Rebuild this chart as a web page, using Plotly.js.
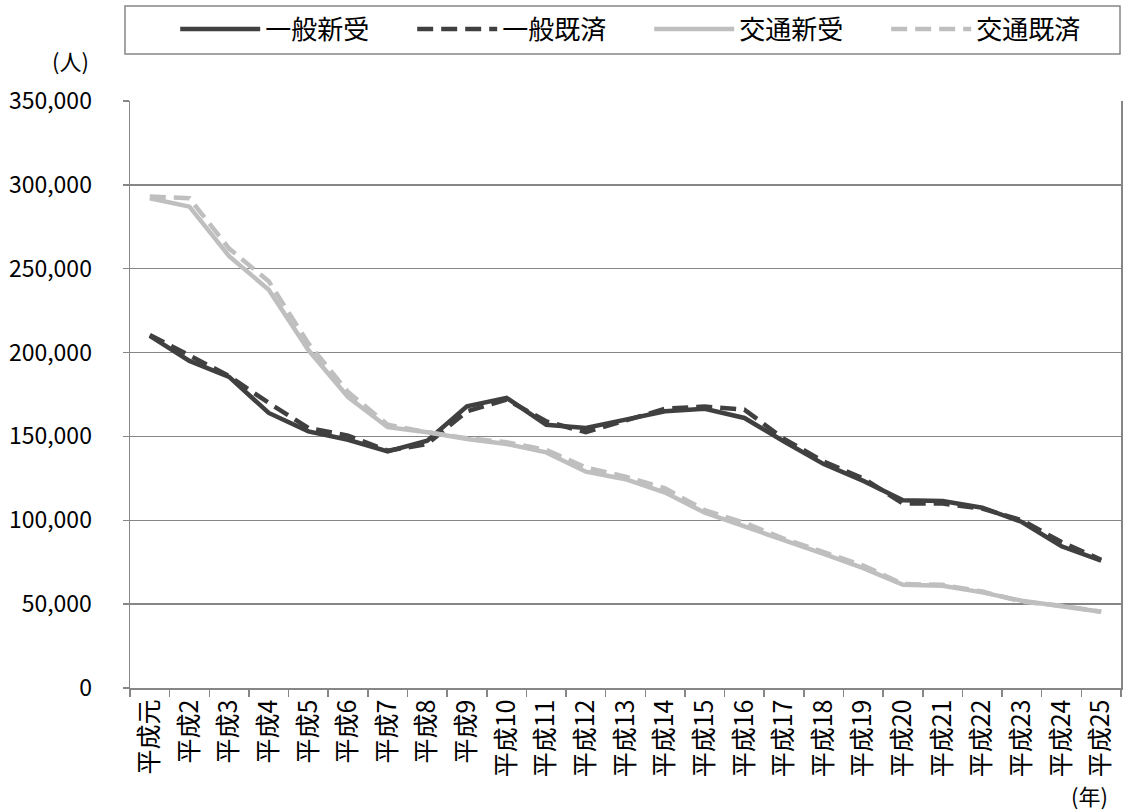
<!DOCTYPE html>
<html>
<head>
<meta charset="utf-8">
<script src="https://cdn.plot.ly/plotly-3.0.1.min.js"></script>
<style>
html, body { margin: 0; padding: 0; background: #fff; }
#chart { width: 1123px; height: 812px; }
</style>
</head>
<body>
<div id="chart"></div>
<script>
const categories = ['平成元','平成2','平成3','平成4','平成5','平成6','平成7','平成8','平成9','平成10',
  '平成11','平成12','平成13','平成14','平成15','平成16','平成17','平成18','平成19','平成20',
  '平成21','平成22','平成23','平成24','平成25'];

const seriesNames = ['一般新受', '一般既済', '交通新受', '交通既済'];

const generalNew = [210000,195000,185500,164000,153000,148000,141000,147500,168000,173000,
  157000,155000,160000,165000,166500,161000,147000,133500,123500,112000,
  111500,107500,99000,84500,76000];
const generalDone = [210500,198500,186000,170000,155000,150500,141500,145500,165000,172000,
  159000,152500,159500,166500,167800,166000,148500,135000,125000,110000,
  110000,107000,100000,87000,76500];
const trafficNew = [292000,287000,257500,237500,201500,173500,155500,152500,148500,145500,
  140500,129000,124500,116500,104500,96500,88000,80000,71500,61500,
  61000,57000,52000,48500,45500];
const trafficDone = [293000,292000,262000,242500,205500,176500,157000,152500,149000,146500,
  142000,131500,126000,119000,106000,98500,89000,81000,73000,62000,
  61500,57500,51500,49000,45500];

const yTickValues = [0,50000,100000,150000,200000,250000,300000,350000];

const DARK = '#404040';
const LIGHT = '#bfbfbf';
const GRID = '#868686';
const FONT = '"Noto Sans CJK JP", "Noto Sans", sans-serif';

function tr(name, y, color, dash) {
  return {
    type: 'scatter', mode: 'lines', name: name,
    x: categories, y: y,
    line: { color: color, width: 4.5, dash: dash },
    hoverinfo: 'skip'
  };
}

const data = [
  tr(seriesNames[0], generalNew, DARK, 'solid'),
  tr(seriesNames[1], generalDone, DARK, '16px,8px'),
  tr(seriesNames[2], trafficNew, LIGHT, 'solid'),
  tr(seriesNames[3], trafficDone, LIGHT, '16px,8px')
];

const layout = {
  width: 1123, height: 812,
  paper_bgcolor: '#ffffff', plot_bgcolor: '#ffffff',
  font: { family: FONT, color: '#000000', size: 22 },
  margin: { l: 130, r: 2, t: 101, b: 124, autoexpand: false },
  showlegend: true,
  legend: {
    orientation: 'h',
    xref: 'container', yref: 'container',
    x: 0.156, y: 0.993, xanchor: 'left', yanchor: 'top',
    borderwidth: 0, bgcolor: 'rgba(0,0,0,0)',
    font: { family: FONT, size: 26, color: '#000' },
    itemwidth: 80,
    entrywidth: 142, entrywidthmode: 'pixels',
    traceorder: 'normal'
  },
  shapes: [
    { type: 'rect', xref: 'paper', yref: 'paper',
      x0: -0.00505, x1: 0.999, y0: 1.0801, y1: 1.1618,
      line: { color: GRID, width: 1.5 }, fillcolor: 'rgba(0,0,0,0)', layer: 'above' }
  ],
  xaxis: {
    type: 'category',
    tickangle: -90,
    tickson: 'boundaries',
    ticks: 'outside', ticklen: 7, tickwidth: 1.5, tickcolor: GRID,
    showline: true, linecolor: GRID, linewidth: 1.5,
    showgrid: false, zeroline: false,
    automargin: false,
    tickfont: { family: FONT, size: 25, color: '#000' },
    range: [-0.5, 24.5]
  },
  yaxis: {
    range: [0, 350000],
    tickvals: yTickValues,
    tickformat: ',d',
    ticks: 'outside', ticklen: 6, tickwidth: 1.5, tickcolor: GRID,
    ticklabelstandoff: 26,
    showline: true, mirror: true, linecolor: GRID, linewidth: 1.5,
    showgrid: true, gridcolor: GRID, gridwidth: 1.5,
    zeroline: false,
    automargin: false,
    tickfont: { family: FONT, size: 23, color: '#000' }
  },
  annotations: [
    { text: '(人)', xref: 'paper', yref: 'paper', x: -0.06, y: 1.07,
      showarrow: false, xanchor: 'center', yanchor: 'middle',
      font: { family: FONT, size: 22, color: '#000' } },
    { text: '(年)', xref: 'paper', yref: 'paper', x: 0.9687, y: -0.182,
      showarrow: false, xanchor: 'center', yanchor: 'middle',
      font: { family: FONT, size: 22, color: '#000' } }
  ]
};

Plotly.newPlot('chart', data, layout, { displayModeBar: false, staticPlot: true });
</script>
</body>
</html>
